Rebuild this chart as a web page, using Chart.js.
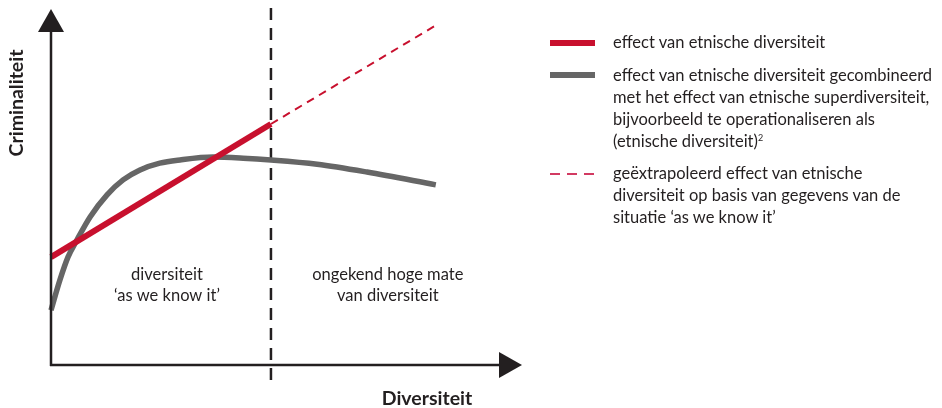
<!DOCTYPE html>
<html lang="nl">
<head>
<meta charset="UTF-8">
<title>Criminaliteit en diversiteit</title>
<script src="https://cdn.jsdelivr.net/npm/chart.js@4"></script>
<style>
  body { margin: 0; background: #fff; font-family: Lato, 'Open Sans', sans-serif; color: #231f20; }
  #wrap { position: relative; width: 942px; height: 408px; }
  #chart { position: absolute; left: 0; top: 0; }
  .leg { position: absolute; left: 613px; font-size: 16.5px; line-height: 22px; color: #231f20; white-space: nowrap; }
  .sw { position: absolute; left: 550px; width: 45px; }
  sup { font-size: 9px; line-height: 0; vertical-align: 6px; }
</style>
</head>
<body>
<div id="wrap">
  <canvas id="chart" width="942" height="408"></canvas>

  <div class="sw" style="top:40px;height:6px;background:#c8102e"></div>
  <div class="leg" style="top:31px">effect van etnische diversiteit</div>

  <div class="sw" style="top:72px;height:6px;background:#666"></div>
  <div class="leg" style="top:64px">effect van etnische diversiteit gecombineerd<br>met het effect van etnische superdiversiteit,<br>bijvoorbeeld te operationaliseren als<br>(etnische diversiteit)<sup>2</sup></div>

  <div class="sw" style="top:173px;height:2px;background:repeating-linear-gradient(90deg,#d23a62 0 10px,transparent 10px 17px)"></div>
  <div class="leg" style="top:162px">geëxtrapoleerd effect van etnische<br>diversiteit op basis van gegevens van de<br>situatie ‘as we know it’</div>
</div>

<script>
// data (x: diversiteit 0-100, y: criminaliteit 0-100)
const redX = [0, 46.7];
const redY = [30.3, 67.7];

const extraX = [46.7, 82.2];
const extraY = [67.7, 95.8];

const grayX = [0, 1.9, 3.6, 5.5, 8.3, 11.9, 15.3, 18.9, 23.1, 27.4, 34.4, 40.8, 46.7, 56.5, 67.1, 81.7];
const grayY = [15.4, 23.9, 30.3, 35.1, 41.6, 47.8, 52.0, 54.8, 56.7, 57.6, 58.4, 58.1, 57.6, 56.4, 54.2, 50.6];

const dividerX = 46.7;
const leftLabel = ['diversiteit', '‘as we know it’'];
const rightLabel = ['ongekend hoge mate', 'van diversiteit'];
const xTitle = 'Diversiteit';
const yTitle = 'Criminaliteit';

const toPts = (xs, ys) => xs.map((x, i) => ({ x: x, y: ys[i] }));

const INK = '#231f20';
const FONT = 'Lato, "Open Sans", sans-serif';

// assen met pijlen, scheidingslijn en teksten
const decor = {
  id: 'decor',
  beforeDatasetsDraw(chart) {
    const { ctx, chartArea: a, scales } = chart;
    const dx = scales.x.getPixelForValue(dividerX);
    ctx.save();
    ctx.strokeStyle = INK;
    ctx.lineWidth = 2.5;
    ctx.setLineDash([12, 8]);
    ctx.beginPath();
    ctx.moveTo(dx, a.top - 1);
    ctx.lineTo(dx, a.bottom + 22);
    ctx.stroke();
    ctx.restore();
  },
  afterDatasetsDraw(chart) {
    const { ctx, chartArea: a, scales } = chart;
    ctx.save();
    ctx.strokeStyle = INK;
    ctx.fillStyle = INK;
    ctx.lineWidth = 2.5;
    // y-as
    ctx.beginPath();
    ctx.moveTo(a.left, a.bottom + 1);
    ctx.lineTo(a.left, a.top + 20);
    ctx.stroke();
    ctx.beginPath();
    ctx.moveTo(a.left, a.top);
    ctx.lineTo(a.left - 13, a.top + 23);
    ctx.lineTo(a.left + 13, a.top + 23);
    ctx.closePath();
    ctx.fill();
    // x-as
    ctx.beginPath();
    ctx.moveTo(a.left - 1, a.bottom);
    ctx.lineTo(a.right - 20, a.bottom);
    ctx.stroke();
    ctx.beginPath();
    ctx.moveTo(a.right, a.bottom);
    ctx.lineTo(a.right - 23, a.bottom - 13);
    ctx.lineTo(a.right - 23, a.bottom + 13);
    ctx.closePath();
    ctx.fill();

    // teksten in de grafiek
    ctx.font = '16.5px ' + FONT;
    ctx.textAlign = 'center';
    ctx.textBaseline = 'middle';
    const dx = scales.x.getPixelForValue(dividerX);
    const lx = (a.left + dx) / 2 + 6;
    const rx = scales.x.getPixelForValue(71.5);
    const ly = scales.y.getPixelForValue(25.3);
    leftLabel.forEach((t, i) => ctx.fillText(t, lx, ly + i * 21));
    rightLabel.forEach((t, i) => ctx.fillText(t, rx, ly + i * 21));

    // astitels
    ctx.font = 'bold 19.5px ' + FONT;
    ctx.fillText(xTitle, 427, 399);
    ctx.translate(17, 103);
    ctx.rotate(-Math.PI / 2);
    ctx.fillText(yTitle, 0, 0);
    ctx.restore();
  }
};

new Chart(document.getElementById('chart'), {
  type: 'scatter',
  data: {
    datasets: [
      {
        label: 'effect van etnische diversiteit',
        data: toPts(redX, redY),
        showLine: true,
        borderColor: '#c8102e',
        borderWidth: 6,
        pointRadius: 0
      },
      {
        label: 'effect van etnische diversiteit gecombineerd met superdiversiteit',
        data: toPts(grayX, grayY),
        showLine: true,
        borderColor: '#666666',
        borderWidth: 5.5,
        cubicInterpolationMode: 'monotone',
        pointRadius: 0
      },
      {
        label: 'geëxtrapoleerd effect',
        data: toPts(extraX, extraY),
        showLine: true,
        borderColor: '#c8102e',
        borderWidth: 2,
        borderDash: [8, 6],
        pointRadius: 0
      }
    ]
  },
  options: {
    responsive: false,
    animation: false,
    layout: { padding: { left: 51, top: 9, right: 420, bottom: 43 } },
    scales: {
      x: { type: 'linear', min: 0, max: 100, display: false },
      y: { type: 'linear', min: 0, max: 100, display: false }
    },
    plugins: {
      legend: { display: false },
      tooltip: { enabled: false }
    },
    clip: false
  },
  plugins: [decor]
});
</script>
</body>
</html>
